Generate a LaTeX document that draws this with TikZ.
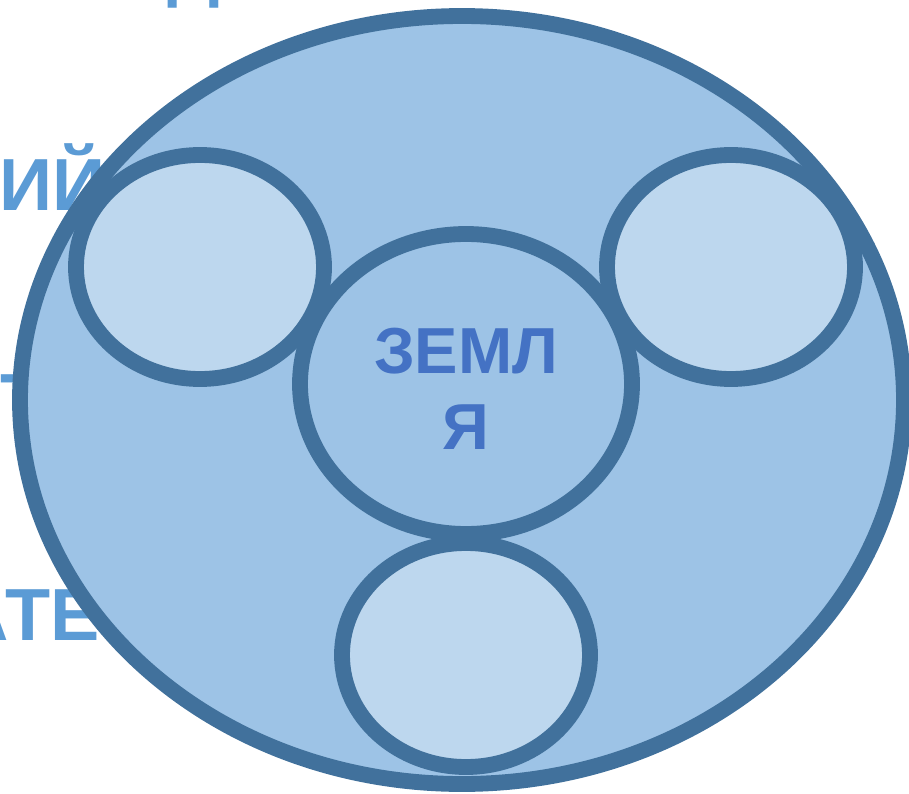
\documentclass[tikz,border=0pt]{standalone}
\usepackage{fontspec}
\setmainfont{Liberation Sans}
\usepackage{xcolor}

\definecolor{ringblue}{HTML}{41719C}
\definecolor{outerfill}{HTML}{9DC3E6}
\definecolor{innerfill}{HTML}{BDD7EE}
\definecolor{titleblue}{HTML}{4472C4}
\definecolor{backtext}{HTML}{5B9BD5}

\begin{document}
\begin{tikzpicture}[x=0.01cm, y=-0.01cm,
    ring/.style={draw=ringblue, line width=4.5pt},
    backword/.style={anchor=base west, inner sep=0pt, text=backtext,
        font=\fontsize{21pt}{25pt}\selectfont\bfseries}]
    \useasboundingbox (0,0) rectangle (909,794);

    % words behind the big circle
    \node[backword] (wordD) at (167,-6) {Д};
    \node[backword] (wordIJ) at (-1,211) {ИЙ};
    \node[backword] (wordT) at (0,425) {Т};
    \node[backword] (wordATE) at (-45,640) {АТЕ};

    % big circle
    \draw[ring, fill=outerfill] (462,400) ellipse [x radius=442, y radius=384];

    % small circles
    \draw[ring, fill=innerfill] (200,267) ellipse [x radius=124, y radius=112];
    \draw[ring, fill=innerfill] (731,267) ellipse [x radius=124, y radius=112];
    \draw[ring, fill=innerfill] (466,655) ellipse [x radius=124, y radius=112];

    % earth in the middle
    \draw[ring, fill=outerfill] (466,384) ellipse [x radius=166, y radius=150];
    \node[align=center, text=titleblue, font=\fontsize{18.5pt}{21.6pt}\selectfont\bfseries]
        (earth) at (466,389) {ЗЕМЛ\\Я};
\end{tikzpicture}
\end{document}
